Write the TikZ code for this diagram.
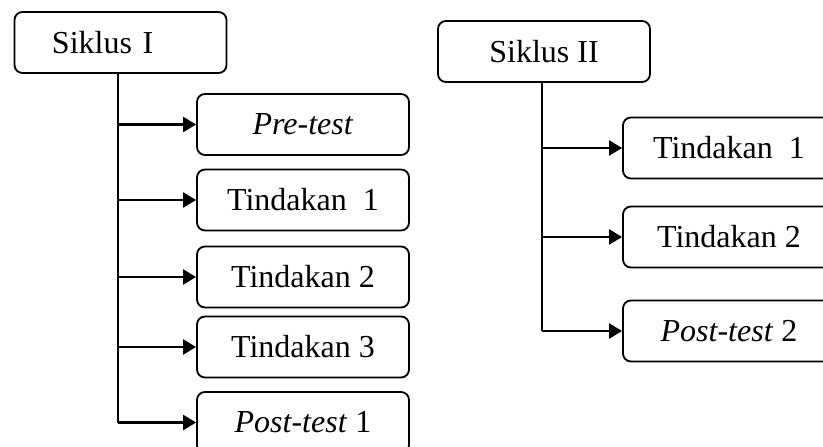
\documentclass[tikz,border=0pt]{standalone}
\usepackage{fontspec}
\setmainfont{Liberation Serif}
\usetikzlibrary{arrows.meta}
\begin{document}
\begin{tikzpicture}[x=1pt,y=-1pt,
  box/.style={draw, line width=1.8pt, rounded corners=8pt, minimum width=212pt,
    minimum height=61pt, inner sep=0pt, font=\fontsize{32}{36}\selectfont},
  headbox/.style={box, align=left, text width=137pt, inner xsep=37.5pt},
  trunk/.style={line width=2.3pt},
  arr/.style={line width=2.3pt, -{Triangle[length=13pt,width=15pt]}}]
\path[use as bounding box] (0,0) rectangle (823,447);
\begin{scope}
\clip (0,0) rectangle (823,447);
% Siklus I
\node[headbox] (s1) at (120.5,42.5) {Siklus I};
\coordinate (t1) at (118,73);
\node[box] (a1) at (303,124.5) {\textit{Pre-test}};
\node[box] (a2) at (303,200) {Tindakan\ \ 1};
\node[box] (a3) at (303,277) {Tindakan 2};
\node[box] (a4) at (303,347) {Tindakan 3};
\node[box] (a5) at (303,422.5) {\textit{Post-test} 1};
\draw[trunk] (t1) -- (t1 |- a5.west);
\foreach \n in {a1,a2,a3,a4,a5}
  \draw[arr] (t1 |- \n.west) -- (\n.west);
% Siklus II
\node[box] (s2) at (544,51.5) {Siklus II};
\coordinate (t2) at (542,82);
\node[box] (b1) at (729,148) {Tindakan\ \ 1};
\node[box] (b2) at (729,237) {Tindakan 2};
\node[box] (b3) at (729,331) {\textit{Post-test} 2};
\draw[trunk] (t2) -- (t2 |- b3.west);
\foreach \n in {b1,b2,b3}
  \draw[arr] (t2 |- \n.west) -- (\n.west);
\end{scope}
\end{tikzpicture}
\end{document}
